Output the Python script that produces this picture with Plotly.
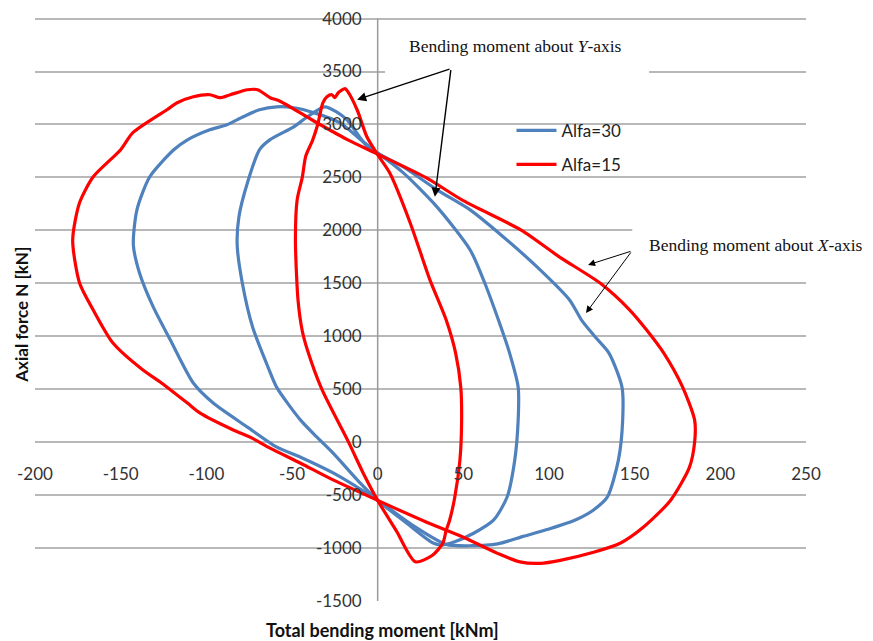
import plotly.graph_objects as go

# ---------------- data ----------------
# Alfa = 30 : moment about X-axis (outer blue loop)
a30_mx_x = [0, 15, 34.6, 54, 73.4, 93, 112, 119, 127, 135, 142.6, 143, 140.5, 134, 126, 116, 100, 85, 70, 55, 40, 20, 0,
            -25.7, -45, -58.8, -76, -96, -107.6, -121, -131, -139, -142.6, -140.5, -133, -119, -111, -98, -88, -78.5,
            -69, -59, -49, -36, -22, -8.4, 0]
a30_mx_y = [2730, 2600, 2383, 2194, 1938, 1655, 1343, 1153, 993, 841, 520, 208, -170, -520, -640, -730, -820, -890, -960,
            -978, -965, -780, -550,
            -293, -142, -47, 142, 369, 558, 964, 1277, 1598, 1863, 2194, 2506, 2761, 2855, 2950, 2997, 3073,
            3139, 3167, 3158, 3105, 3016, 2837, 2730]

# Alfa = 30 : moment about Y-axis (inner blue loop)
a30_my_x = [0, 15, 34.6, 54, 62.5, 70.5, 77, 82, 82, 80, 75.5, 67.6, 56, 45, 37, 32, 17, 0,
            -10, -26, -35, -45, -59, -64, -73, -79, -82, -81, -76, -69, -63, -49, -41, -31, -24, -18, -6, 0]
a30_my_y = [2730, 2543, 2222, 1815, 1503, 1153, 841, 520, 208, -170, -520, -737, -860, -940, -972, -950, -766, -550,
            -390, -104, 40, 208, 520, 709, 1087, 1503, 1863, 2127, 2449, 2761, 2855, 2978, 3073, 3167, 3120, 3045,
            2790, 2730]

# Alfa = 15 : moment about X-axis (outer red loop)
a15_mx_x = [0, 28, 50, 84, 106, 130, 147, 157, 167, 178, 185, 185, 182, 171, 155, 141.5, 126, 106.5, 95, 83, 70, 50,
            30, 0,
            -25.7, -45, -62.8, -74.5, -84, -103.6, -111, -126, -137, -154.5, -166, -174, -178, -174, -166, -150,
            -143, -123, -117, -107.6, -97.8, -92, -86, -76, -70, -62.8, -57, -38, -18, 0]
a15_mx_y = [2720, 2500, 2280, 2000, 1750, 1500, 1250, 1059, 841, 520, 208, 0, -236, -548, -804, -955, -1040, -1116,
            -1144, -1130, -1050, -898, -766, -550,
            -359, -199, -57, 47, 113, 274, 369, 557, 681, 936, 1248, 1503, 1910, 2260, 2506, 2761,
            2921, 3139, 3205, 3262, 3281, 3253, 3281, 3328, 3328, 3253, 3220, 3040, 2860, 2720]

# Alfa = 15 : moment about Y-axis (inner red loop), starting at its lower corner
a15_my_x = [22, 11, 0, -8.4, -17, -32.6, -41, -44, -46.5, -48, -47, -44, -42, -38, -35, -32, -29.6, -26.7, -25, -23,
            -19, -17.4, -12, -6.3, 0, 7, 19, 30.5, 40, 45.5, 48.5, 49, 48, 45, 42, 40, 38, 32, 22]
a15_my_y = [-1130, -840, -550, -293, 0, 500, 870, 1050, 1343, 1910, 2288, 2500, 2700, 2850, 3000, 3205, 3262, 3281,
            3253, 3300, 3338, 3310, 3139, 2884, 2714, 2543, 2070, 1532, 1153, 841, 520, 208, -170, -520, -737, -832,
            -955, -1068, -1130]

series_names = ["Alfa=30", "Alfa=15"]
series_colors = ["#4f81bd", "#ff0000"]

x_tick_vals = [-200, -150, -100, -50, 0, 50, 100, 150, 200, 250]
x_tick_labels = ["-200", "-150", "-100", "-50", "0", "50", "100", "150", "200", "250"]
y_tick_vals = [-1500, -1000, -500, 0, 500, 1000, 1500, 2000, 2500, 3000, 3500, 4000]
y_tick_labels = ["-1500", "-1000", "-500", "0", "500", "1000", "1500", "2000", "2500", "3000", "3500", "4000"]

# ---------------- figure ----------------
fig = go.Figure()

fig.add_trace(go.Scatter(
    x=a30_mx_x + [None] + a30_my_x,
    y=a30_mx_y + [None] + a30_my_y,
    mode="lines", name=series_names[0], legendgroup="g30",
    line=dict(color=series_colors[0], width=3.2, shape="spline", smoothing=0.7), connectgaps=False,
))
fig.add_trace(go.Scatter(
    x=a15_mx_x + [None] + a15_my_x,
    y=a15_mx_y + [None] + a15_my_y,
    mode="lines", name=series_names[1], legendgroup="g15",
    line=dict(color=series_colors[1], width=3.2, shape="spline", smoothing=0.7), connectgaps=False,
))

tick_font = dict(family="Lato, Carlito, Calibri, sans-serif", size=17, color="#333333")
serif = dict(family="Liberation Serif, Times New Roman, serif", size=17.5, color="#111111")

# the page body adds an 8 px offset, so the margins are reduced by 8 px
fig.update_layout(
    width=857, height=633,
    margin=dict(l=27, r=59, t=9, b=40),
    paper_bgcolor="white", plot_bgcolor="white",
    xaxis=dict(
        range=[-200, 250], tickvals=x_tick_vals, ticktext=x_tick_labels,
        showgrid=False, zeroline=False, showline=False, ticks="",
        anchor="free", position=1500/5515, ticklabelstandoff=20, automargin=False,
        ticklabeloverflow="allow", tickfont=tick_font,
    ),
    yaxis=dict(
        range=[-1500, 4015], tickvals=y_tick_vals, ticktext=y_tick_labels,
        showgrid=True, gridcolor="#b8b8b8", gridwidth=1.5, zeroline=False,
        showline=False, ticks="",
        anchor="free", position=200/450, ticklabelstandoff=16, automargin=False,
        ticklabeloverflow="allow", tickfont=tick_font,
    ),
    showlegend=True,
    legend=dict(
        x=0.618, y=0.836, xanchor="left", yanchor="top",
        bgcolor="rgba(0,0,0,0)", traceorder="grouped", tracegroupgap=9,
        font=dict(family="Lato, Carlito, Calibri, sans-serif", size=17, color="#222222"),
        itemwidth=40,
    ),
)

# vertical axis line at x = 0 spanning the value axis range
fig.add_shape(type="line", xref="x", yref="y", x0=0, x1=0, y0=-1500, y1=4000,
              line=dict(color="#9a9a9a", width=1.5), layer="between")

# white boxes behind the callout texts (they interrupt the gridlines)
fig.add_shape(type="rect", xref="x", yref="y", x0=4.3, x1=158.4, y0=3260, y1=3940,
              fillcolor="white", line=dict(width=0), layer="between")
fig.add_shape(type="rect", xref="x", yref="y", x0=148.6, x1=250, y0=1545, y1=2070,
              fillcolor="white", line=dict(width=0), layer="between")

# callout texts
fig.add_annotation(x=80.4, y=3744, xref="x", yref="y", showarrow=False,
                   text="Bending moment about <i>Y</i>-axis", font=serif)
fig.add_annotation(x=157.0, y=1863, xref="x", yref="y", showarrow=False, xanchor="left",
                   text="Bending moment about <i>X</i>-axis", font=serif)

# arrows (Y-axis callout)
for hx, hy in [(-12, 3234), (33.4, 2317)]:
    fig.add_annotation(x=hx, y=hy, ax=42.8, ay=3527, xref="x", yref="y", axref="x", ayref="y",
                       text="", showarrow=True, arrowhead=2, arrowsize=1.3, arrowwidth=1.4,
                       arrowcolor="#000000")
# arrows (X-axis callout)
for hx, hy in [(122.8, 1674), (121.6, 1220)]:
    fig.add_annotation(x=hx, y=hy, ax=148.4, ay=1806, xref="x", yref="y", axref="x", ayref="y",
                       text="", showarrow=True, arrowhead=2, arrowsize=1.4, arrowwidth=1.0,
                       arrowcolor="#000000")

# axis titles
fig.add_annotation(x=-0.017, y=0.49, xref="paper", yref="paper", showarrow=False,
                   xanchor="center", yanchor="middle",
                   text="<b>Axial force N [kN]</b>", textangle=-90,
                   font=dict(family="Lato, Carlito, Calibri, sans-serif", size=17, color="#111111"))
fig.add_annotation(x=0.451, y=-0.049, xref="paper", yref="paper", showarrow=False,
                   xanchor="center", yanchor="middle",
                   text="<b>Total bending moment [kNm]</b>",
                   font=dict(family="Lato, Carlito, Calibri, sans-serif", size=18, color="#111111"))

fig.write_html("out.html")
